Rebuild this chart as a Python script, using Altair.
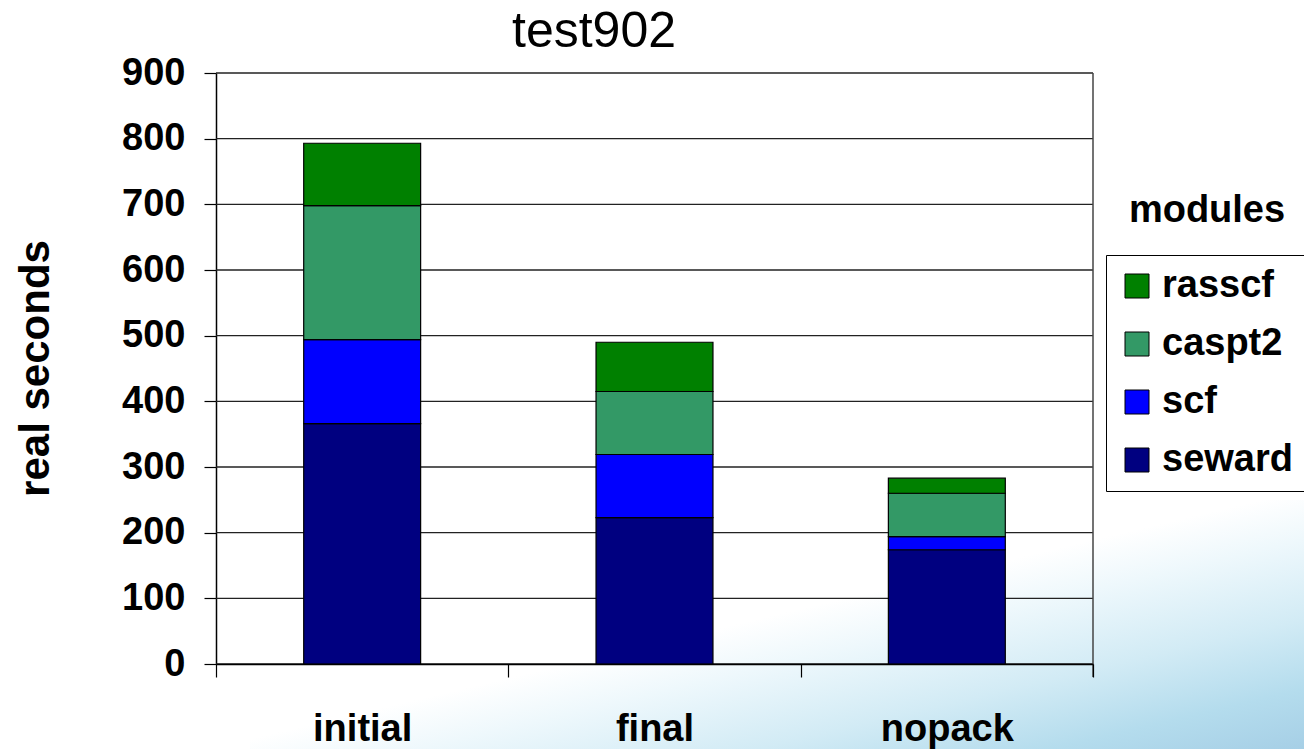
import altair as alt
import pandas as pd

# Wall-clock time per program module for three build variants
runs = ["initial", "final", "nopack"]
modules = ["rasscf", "caspt2", "scf", "seward"]
module_colors = ["#008000", "#339966", "#0000FF", "#000080"]

seward = [366, 223, 174]
scf = [128, 96, 20]
caspt2 = [204, 96, 66]
rasscf = [95, 75, 23]

y_ticks = [0, 100, 200, 300, 400, 500, 600, 700, 800, 900]

FONT = "Liberation Sans"

rows = []
series = {"seward": seward, "scf": scf, "caspt2": caspt2, "rasscf": rasscf}
stack_rank = {"seward": 0, "scf": 1, "caspt2": 2, "rasscf": 3}
for name, values in series.items():
    for run, v in zip(runs, values):
        rows.append({"run": run, "module": name, "seconds": v, "rank": stack_rank[name]})
df = pd.DataFrame(rows)

y_scale = alt.Scale(domain=[0, 900], nice=False)
y_axis = alt.Axis(
    values=y_ticks,
    grid=False,
    labelFont=FONT,
    labelFontSize=38,
    labelFontWeight="bold",
    labelColor="black",
    labelPadding=19,
    tickSize=12,
    tickColor="black",
    tickWidth=1.2,
    domainColor="black",
    domainWidth=1.5,
    titleFont=FONT,
    titleFontSize=42,
    titleFontWeight="bold",
    titleColor="black",
    titleAngle=-90,
    titleX=-181,
    titleY=295,
    titleAlign="center",
    titleBaseline="middle",
)

# soft blue backdrop in the lower right corner of the slide
backdrop = alt.Chart(pd.DataFrame({"k": [0]})).mark_rect(
    color=alt.LinearGradient(
        gradient="linear",
        x1=0, y1=0, x2=1, y2=1,
        stops=[
            alt.GradientStop(color="#ffffff", offset=0),
            alt.GradientStop(color="#ffffff", offset=0.48),
            alt.GradientStop(color="#eef8fc", offset=0.58),
            alt.GradientStop(color="#d2ebf5", offset=0.74),
            alt.GradientStop(color="#b4dced", offset=0.88),
            alt.GradientStop(color="#a6cfe6", offset=1),
        ],
    )
).encode(x=alt.value(34), x2=alt.value(1088), y=alt.value(427), y2=alt.value(676))

# horizontal gridlines at every y tick
grid = alt.Chart(pd.DataFrame({"v": y_ticks})).mark_rule(
    color="#222222", strokeWidth=1.4
).encode(y=alt.Y("v:Q", scale=y_scale, axis=y_axis, title="real seconds"))

# right-hand frame line of the plot area (runs down to the tick length)
frame = alt.Chart(pd.DataFrame({"k": [0]})).mark_rule(
    color="#444444", strokeWidth=1.5
).encode(x=alt.value(877), y=alt.value(0), y2=alt.value(604))

bars = alt.Chart(df).mark_bar(
    stroke="black", strokeWidth=1.2, width=alt.RelativeBandSize(0.4)
).encode(
    x=alt.X(
        "run:N",
        sort=runs,
        title=None,
        scale=alt.Scale(paddingInner=0, paddingOuter=0),
        axis=alt.Axis(
            labelAngle=0,
            labelFont=FONT,
            labelFontSize=38,
            labelFontWeight="bold",
            labelColor="black",
            labelBaseline="alphabetic",
            labelPadding=63,
            tickBand="extent",
            tickSize=13,
            tickColor="black",
            tickWidth=1.2,
            domainColor="black",
            domainWidth=1.5,
            grid=False,
            zindex=1,
        ),
    ),
    y=alt.Y("seconds:Q", stack="zero", title="real seconds", scale=y_scale, axis=y_axis),
    color=alt.Color(
        "module:N",
        scale=alt.Scale(domain=modules, range=module_colors),
        legend=alt.Legend(
            title=None,
            orient="none",
            legendX=890,
            legendY=182,
            symbolType="square",
            symbolSize=576,
            symbolStrokeColor="black",
            symbolStrokeWidth=1,
            symbolOpacity=1,
            labelFont=FONT,
            labelFontSize=38,
            labelFontWeight="bold",
            labelColor="black",
            labelOffset=6,
            rowPadding=20,
            padding=12,
            strokeColor="black",
            fillColor="white",
        ),
    ),
    order=alt.Order("rank:Q", sort="ascending"),
)

legend_title = alt.Chart(pd.DataFrame({"t": ["modules"]})).mark_text(
    font=FONT, fontSize=38, fontWeight="bold", color="black",
    align="center", baseline="alphabetic",
).encode(text="t:N", x=alt.value(991), y=alt.value(149))

chart_title = alt.Chart(pd.DataFrame({"t": ["test902"]})).mark_text(
    font=FONT, fontSize=50, fontWeight="normal", color="black",
    align="center", baseline="alphabetic",
).encode(text="t:N", x=alt.value(378), y=alt.value(-26))

chart = (
    alt.layer(backdrop, grid, frame, bars, legend_title, chart_title)
    .properties(
        width=877,
        height=591,
        autosize=alt.AutoSizeParams(type="none"),
        padding={"left": 216, "top": 73, "right": 211, "bottom": 85},
        background="white",
    )
    .configure_view(strokeOpacity=0)
)

chart.save("out.html", embed_options={"renderer": "svg", "actions": False})
